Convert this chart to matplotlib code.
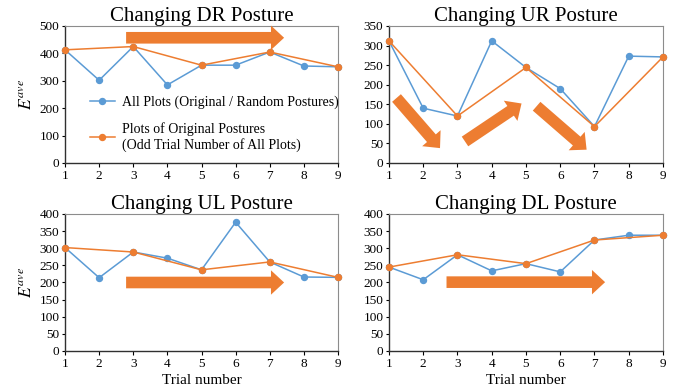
import matplotlib.pyplot as plt

plt.rcParams['font.family'] = ['Liberation Serif', 'DejaVu Serif']
plt.rcParams['mathtext.fontset'] = 'stix'

trials = [1, 2, 3, 4, 5, 6, 7, 8, 9]
odd_trials = [1, 3, 5, 7, 9]

# E^ave for every trial, one list per posture
dr_all = [413, 302, 425, 285, 357, 357, 405, 354, 351]
ur_all = [312, 140, 120, 312, 244, 190, 93, 273, 271]
ul_all = [302, 214, 289, 271, 237, 376, 260, 216, 215]
dl_all = [245, 208, 281, 234, 255, 231, 324, 338, 338]

titles = ['Changing DR Posture', 'Changing UR Posture',
          'Changing UL Posture', 'Changing DL Posture']
ymax = [500, 350, 400, 400]
ystep = [100, 50, 50, 50]

BLUE = '#5B9BD5'
ORANGE = '#ED7D31'

fig = plt.figure(figsize=(6.83, 3.92), dpi=100)
boxes = [[0.0952, 0.5842, 0.3997, 0.3495],
         [0.5695, 0.5842, 0.4012, 0.3495],
         [0.0952, 0.1046, 0.3997, 0.3495],
         [0.5695, 0.1046, 0.4012, 0.3495]]
series = [dr_all, ur_all, ul_all, dl_all]
axes = []
for i, (box, vals) in enumerate(zip(boxes, series)):
    ax = fig.add_axes(box)
    odd_vals = [vals[t - 1] for t in odd_trials]
    ax.plot(trials, vals, color=BLUE, lw=1.1, marker='o', ms=4.3,
            clip_on=False, zorder=3, label='All Plots (Original / Random Postures)')
    ax.plot(odd_trials, odd_vals, color=ORANGE, lw=1.1, marker='o', ms=4.3,
            clip_on=False, zorder=4,
            label='Plots of Original Postures\n(Odd Trial Number of All Plots)')
    ax.set_xlim(1, 9)
    ax.set_ylim(0, ymax[i])
    ax.set_xticks(trials)
    ax.set_yticks(range(0, ymax[i] + 1, ystep[i]))
    ax.tick_params(labelsize=9.5, length=3, width=0.8, pad=2)
    ax.tick_params(axis='y', length=2)
    ax.set_title(titles[i], fontsize=15, pad=3.5)
    for s in ['top', 'right']:
        ax.spines[s].set_color('#8c8c8c')
        ax.spines[s].set_linewidth(0.8)
    for s in ['left', 'bottom']:
        ax.spines[s].set_color('#303030')
        ax.spines[s].set_linewidth(1.0)
    if i in (0, 2):
        ax.set_ylabel('$E^{ave}$', fontsize=12.5, labelpad=3)
    if i in (2, 3):
        ax.set_xlabel('Trial number', fontsize=11, labelpad=3)
    axes.append(ax)

def big_arrow(ax, tail, tip):
    ax.annotate('', xy=tip, xytext=tail,
                arrowprops=dict(arrowstyle='simple,head_length=0.7,head_width=1.3,tail_width=0.62',
                                color=ORANGE, lw=0, shrinkA=0, shrinkB=0,
                                mutation_scale=13.5), zorder=5)

big_arrow(axes[0], (2.79, 457), (7.42, 457))
big_arrow(axes[2], (2.79, 200), (7.42, 200))
big_arrow(axes[3], (2.68, 201), (7.31, 201))
big_arrow(axes[1], (1.22, 166), (2.49, 38))
big_arrow(axes[1], (3.22, 55), (4.87, 152))
big_arrow(axes[1], (5.31, 145), (6.77, 34))

axes[0].legend(loc='center left', bbox_to_anchor=(0.09, 0.285), frameon=False,
               fontsize=10, handlelength=1.8, handletextpad=0.5,
               labelspacing=0.9, borderpad=0, borderaxespad=0)

fig.savefig('out.png', dpi=100)
